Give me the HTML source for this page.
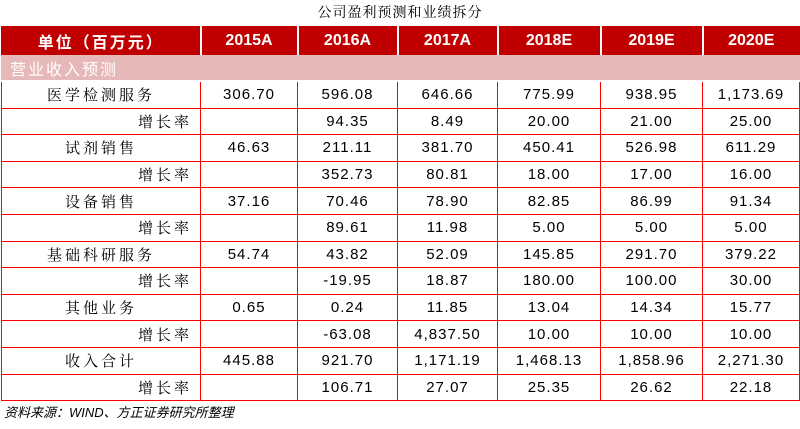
<!DOCTYPE html>
<html><head><meta charset="utf-8"><style>
body{margin:0;width:800px;height:429px;background:#fff;font-family:"Liberation Sans","Noto Sans CJK SC",sans-serif;position:relative;overflow:hidden}
.t{position:absolute;top:2px;left:0;width:800px;text-align:center;font-size:14px;font-family:"Liberation Serif","Noto Serif CJK SC",serif;color:#000;letter-spacing:1px}
table{position:absolute;left:1px;top:26px;border-collapse:collapse;table-layout:fixed}
td{border:1px solid #f00;height:25.6px;padding:0;text-align:center;font-size:15px;color:#000;white-space:nowrap;letter-spacing:1px}
td.c{font-family:"Liberation Serif","Noto Serif CJK SC",serif;letter-spacing:3px;font-size:15px}
tr.h td{background:#c00000;color:#fff;font-weight:bold;height:27px;border:1px solid #c00000;border-right:2px solid #fff;font-size:16px;letter-spacing:0}
tr.h td:first-child{letter-spacing:2px}
tr.h td:last-child{border-right:1px solid #c00000}
tr.s td{background:#e6b8b7;color:#fff;text-align:left;padding-left:8px;height:25px;font-size:16px;border-color:#e6b8b7;border-bottom:2px solid #fff;letter-spacing:2px}
td.g{text-align:right;padding-right:8px}
.src{position:absolute;left:4px;top:402px;font-size:13px;font-style:italic;color:#000}
</style></head><body>
<div class="t">公司盈利预测和业绩拆分</div>
<table>
<colgroup><col style="width:199px"><col style="width:97px"><col style="width:100px"><col style="width:100px"><col style="width:103px"><col style="width:102px"><col style="width:97px"></colgroup>
<tr class="h"><td>单位（百万元）</td><td>2015A</td><td>2016A</td><td>2017A</td><td>2018E</td><td>2019E</td><td>2020E</td></tr>
<tr class="s"><td colspan="7">营业收入预测</td></tr>
<tr><td class="c">医学检测服务</td><td>306.70</td><td>596.08</td><td>646.66</td><td>775.99</td><td>938.95</td><td>1,173.69</td></tr>
<tr><td class="c g">增长率</td><td></td><td>94.35</td><td>8.49</td><td>20.00</td><td>21.00</td><td>25.00</td></tr>
<tr><td class="c">试剂销售</td><td>46.63</td><td>211.11</td><td>381.70</td><td>450.41</td><td>526.98</td><td>611.29</td></tr>
<tr><td class="c g">增长率</td><td></td><td>352.73</td><td>80.81</td><td>18.00</td><td>17.00</td><td>16.00</td></tr>
<tr><td class="c">设备销售</td><td>37.16</td><td>70.46</td><td>78.90</td><td>82.85</td><td>86.99</td><td>91.34</td></tr>
<tr><td class="c g">增长率</td><td></td><td>89.61</td><td>11.98</td><td>5.00</td><td>5.00</td><td>5.00</td></tr>
<tr><td class="c">基础科研服务</td><td>54.74</td><td>43.82</td><td>52.09</td><td>145.85</td><td>291.70</td><td>379.22</td></tr>
<tr><td class="c g">增长率</td><td></td><td>-19.95</td><td>18.87</td><td>180.00</td><td>100.00</td><td>30.00</td></tr>
<tr><td class="c">其他业务</td><td>0.65</td><td>0.24</td><td>11.85</td><td>13.04</td><td>14.34</td><td>15.77</td></tr>
<tr><td class="c g">增长率</td><td></td><td>-63.08</td><td>4,837.50</td><td>10.00</td><td>10.00</td><td>10.00</td></tr>
<tr><td class="c">收入合计</td><td>445.88</td><td>921.70</td><td>1,171.19</td><td>1,468.13</td><td>1,858.96</td><td>2,271.30</td></tr>
<tr><td class="c g">增长率</td><td></td><td>106.71</td><td>27.07</td><td>25.35</td><td>26.62</td><td>22.18</td></tr>
</table>
<div class="src">资料来源：WIND、方正证券研究所整理</div>
</body></html>
